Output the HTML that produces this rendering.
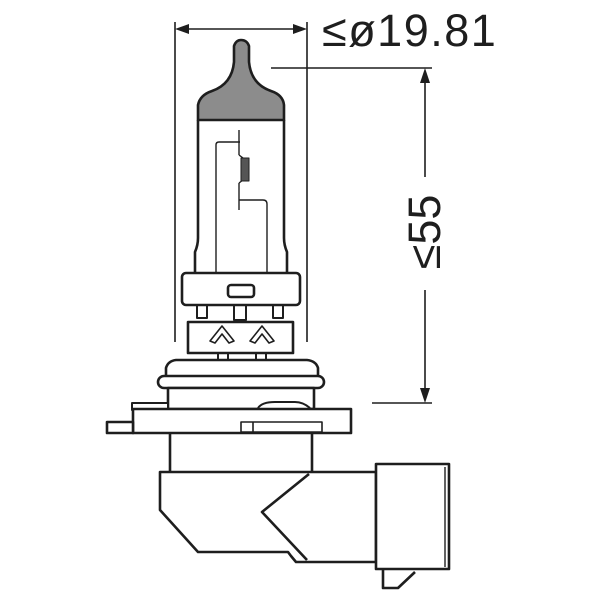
<!DOCTYPE html>
<html><head><style>html,body{margin:0;padding:0;background:#fff}svg{display:block}</style></head>
<body>
<svg width="600" height="600" viewBox="0 0 600 600" xmlns="http://www.w3.org/2000/svg">
<g fill="none" stroke="#1e1e1e" stroke-width="1.6">
<line x1="175" y1="22" x2="175" y2="342"/>
<line x1="307" y1="22" x2="307" y2="342"/>
<line x1="180" y1="29" x2="302" y2="29"/>
<line x1="271" y1="68" x2="432" y2="68"/>
<line x1="425" y1="72" x2="425" y2="177"/>
<line x1="425" y1="290" x2="425" y2="400"/>
<line x1="372" y1="403" x2="432" y2="403"/>
</g>
<g fill="#1e1e1e">
<polygon points="175,29 189,24 189,34"/>
<polygon points="307,29 293,24 293,34"/>
<polygon points="425,68 420,83 430,83"/>
<polygon points="425,403 420,388 430,388"/>
</g>
<text x="322" y="46" font-family="Liberation Sans, sans-serif" font-size="45" fill="#1e1e1e" letter-spacing="1.5">≤ø19.81</text>
<text transform="translate(440,232) rotate(-90)" text-anchor="middle" font-family="Liberation Sans, sans-serif" font-size="45" fill="#1e1e1e">≤55</text>

<g stroke="#1e1e1e" stroke-width="2.6" fill="none" stroke-linejoin="round">
<path d="M198,120 L198,105 Q200,95 212,91 Q232,84 234,62 L234,46 Q236,40 241,40 Q247,40 249,46 L249,62 Q251,84 271,91 Q283,95 284,105 L284,120 Z" fill="#8c8c8c"/>
<path d="M198,120 L198,238 Q198,245 195,252 L195,272 M284,120 L284,238 Q284,245 287,252 L287,272"/>
<g stroke-width="1.4">
<path d="M216,272 L216,145 Q216,142 219,142 L240,142"/>
<line x1="239" y1="130" x2="239" y2="155"/>
<line x1="239" y1="155" x2="243" y2="158"/>
<line x1="239" y1="183" x2="243" y2="180"/>
<line x1="239" y1="183" x2="239" y2="210"/>
<line x1="239" y1="200" x2="263" y2="200"/>
<path d="M263,200 Q267,200 267,204 L267,272"/>
</g>
<rect x="241" y="158" width="8" height="23" fill="#555" stroke-width="1"/>
<rect x="182" y="273" width="118" height="32" rx="4" fill="#fff"/>
<rect x="228" y="285" width="26" height="12" rx="3"/>
<rect x="197" y="305" width="10" height="13" stroke-width="2"/>
<rect x="234" y="305" width="12" height="15" stroke-width="2"/>
<rect x="273" y="305" width="10" height="13" stroke-width="2"/>
<rect x="188" y="322" width="105" height="31" fill="#fff"/>
<path d="M210,341 L222,326 L234,341 L229,343 L222,334 L215,343 Z" stroke-width="1.6"/>
<path d="M250,341 L262,326 L274,341 L269,343 L262,334 L255,343 Z" stroke-width="1.6"/>
<rect x="218" y="353" width="10" height="7" stroke-width="2"/>
<rect x="256" y="353" width="10" height="7" stroke-width="2"/>
<path d="M166,376 L166,368 Q168,361 176,360 L307,360 Q316,361 318,368 L318,376" fill="#fff"/>
<rect x="158" y="376" width="166" height="12" rx="6" fill="#fff"/>
<rect x="168" y="388" width="146" height="21" fill="#fff"/>
<rect x="132" y="403" width="36" height="7" fill="#fff" stroke-width="2"/>
<path d="M258,408 Q262,402 275,402 L295,402 Q303,402 310,408" fill="#fff" stroke-width="2"/>
<rect x="133" y="409" width="218" height="24" fill="#fff"/>
<rect x="107" y="422" width="26" height="11" fill="#fff"/>
<rect x="241" y="422" width="81" height="10" stroke-width="1.6"/>
<line x1="253" y1="422" x2="253" y2="432" stroke-width="1.6"/>
<path d="M170,433 L170,472 M312,433 L312,472"/>
<path d="M160,472 L376,472 L376,562 L296,562 L291,556 L288,552 L198,552 L160,510 Z" fill="#fff"/>
<path d="M309,474 L262,512 L307,560"/>
<rect x="376" y="464" width="73" height="105" fill="#fff"/>
<line x1="445" y1="467" x2="445" y2="567" stroke-width="1.4"/>
<path d="M383,570 L383,588 L398,588 L415,572"/>
</g>
</svg>
</body></html>
